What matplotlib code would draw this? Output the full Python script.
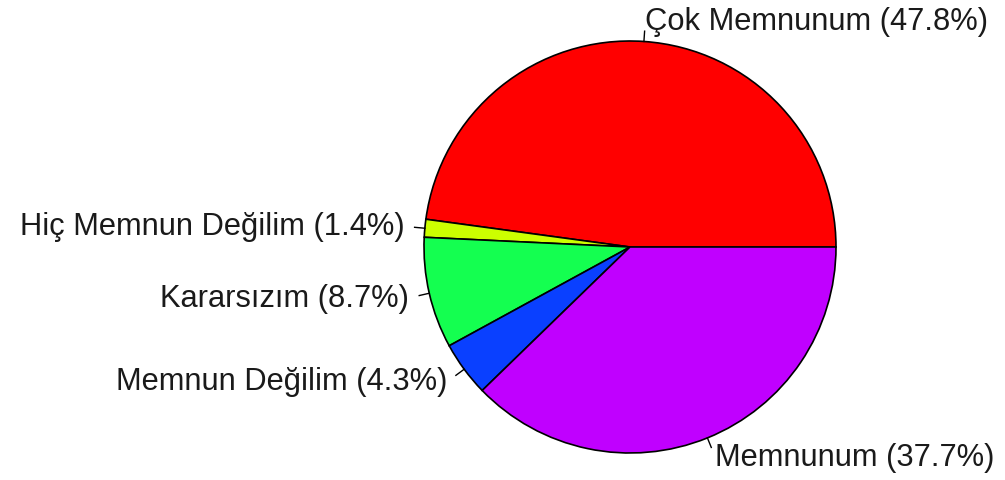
import numpy as np
import matplotlib
matplotlib.use("Agg")
import matplotlib.pyplot as plt

labels = ["Çok Memnunum", "Hiç Memnun Değilim", "Kararsızım", "Memnun Değilim", "Memnunum"]
values = [47.8, 1.4, 8.7, 4.3, 37.7]
colors = ["#FF0000", "#CCFF00", "#14FF50", "#0A40FF", "#C000FF"]

W, H = 1005, 481
fig = plt.figure(figsize=(W / 100, H / 100), dpi=100)
ax = fig.add_axes([0, 0, 1, 1])

cx, cy, r = 630, 248, 206

wedges, _ = ax.pie(values, colors=colors, startangle=0, counterclock=False,
                   center=(cx, cy), radius=r, frame=True,
                   wedgeprops=dict(edgecolor="black", linewidth=1.2))
ax.set_aspect("equal")
ax.set_xlim(0, W)
ax.set_ylim(H, 0)
ax.axis("off")

total = sum(values)
cum = 0
for lab, v in zip(labels, values):
    mid = (cum + v / 2) / total * 2 * np.pi
    cum += v
    dx, dy = np.cos(mid), -np.sin(mid)
    ax.plot([cx + r * dx, cx + 1.05 * r * dx], [cy + r * dy, cy + 1.05 * r * dy],
            color="black", lw=1)
    ha = "left" if dx >= 0 else "right"
    ax.text(cx + 1.1 * r * dx, cy + 1.1 * r * dy, f"{lab} ({v}%)",
            ha=ha, va="center", fontsize=22.2, family="Liberation Sans", color="#1a1a1a")

fig.savefig("out.png", dpi=100)
